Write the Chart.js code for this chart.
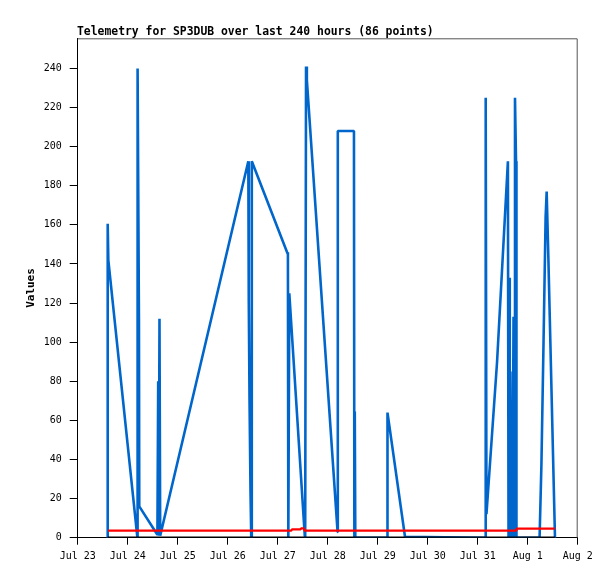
<!DOCTYPE html>
<html><head><meta charset="utf-8">
<script src="https://cdn.jsdelivr.net/npm/chart.js@4/dist/chart.umd.min.js"></script>
<style>html,body{margin:0;padding:0;background:#fff;}canvas{display:block;}</style>
</head><body>
<canvas id="c" width="615" height="579"></canvas>
<script>
// x axis: hours since Jul 23 00:00, 240 hours window
const xTickLabels = ['Jul 23','Jul 24','Jul 25','Jul 26','Jul 27','Jul 28','Jul 29','Jul 30','Jul 31','Aug 1','Aug 2'];
const yTickValues = [0,20,40,60,80,100,120,140,160,180,200,220,240];

const blueHours  = [14.4,14.4,14.7,28.6,28.75,29.4,29.55,38.26,38.64,38.88,39.26,39.6,81.9,82.03,82.2,82.46,82.94,83.3,83.57,100.5,100.9,101.1,101.57,109.0,109.2,109.6,110.0,124.75,124.85,132.6,132.8,133.0,133.25,148.6,148.7,157.1,195.6,195.84,196.2,201.3,206.5,206.8,207.2,207.4,207.7,208.0,208.5,208.7,209.2,209.4,209.8,209.9,210.4,210.6,221.7,222.0,222.6,223.6,224.6,225.1,225.9,229.1];
const blueValues = [0,160.5,142,0.5,240,112,16,1.5,80,1,112,1,192.5,168,121,72,24,0,192.5,146,145,0,125,1,0,241,234,3,208,208,0,64.5,0,0,64,0.5,0,225,12,90,192.5,0,133,0,85,0,27,0,113,0,0,225,192.5,0,0,12.6,38,100,164,177,144,0];

const redHours  = [14.55,102.5,102.9,107.0,107.2,108.6,108.8,210.4,210.6,229.1];
const redValues = [3.6,3.6,4.3,4.3,4.8,4.8,3.6,3.6,4.6,4.6];

const zeroHours  = [14.4,229.1];
const zeroValues = [0,0];

const toXY = (hs, vs) => hs.map((h, i) => ({x: h, y: vs[i]}));

const framePlugin = {
  id: 'frame',
  afterDraw(chart) {
    const {ctx, chartArea: a} = chart;
    ctx.save();
    ctx.strokeStyle = '#555';
    ctx.lineWidth = 1;
    ctx.beginPath();
    ctx.moveTo(a.left, a.top + 0.5);
    ctx.lineTo(a.right - 0.5, a.top + 0.5);
    ctx.lineTo(a.right - 0.5, a.bottom);
    ctx.stroke();
    ctx.fillStyle = '#000';
    ctx.font = 'bold 11.4px "DejaVu Sans Mono"';
    ctx.textAlign = 'left';
    ctx.textBaseline = 'alphabetic';
    ctx.fillText('Telemetry for SP3DUB over last 240 hours (86 points)', 77, 35);
    ctx.restore();
  }
};

new Chart(document.getElementById('c'), {
  type: 'line',
  data: {
    datasets: [
      {data: toXY(blueHours, blueValues), borderColor: '#0066CC', borderWidth: 2.6, pointRadius: 0, tension: 0, order: 2, borderJoinStyle: 'bevel'},
      {data: toXY(redHours, redValues), borderColor: '#FF0000', borderWidth: 2.2, pointRadius: 0, tension: 0, order: 1, borderJoinStyle: 'bevel'},
      {data: toXY(zeroHours, zeroValues), borderColor: '#000000', borderWidth: 2.6, pointRadius: 0, tension: 0, order: 0}
    ]
  },
  options: {
    responsive: false,
    animation: false,
    events: [],
    layout: {padding: {top: 38.3, right: 37.3, left: 0, bottom: 0}},
    plugins: {legend: {display: false}, tooltip: {enabled: false}, title: {display: false}},
    scales: {
      x: {
        type: 'linear', min: 0, max: 240,
        afterFit(s) { s.height = 41.3; },
        afterBuildTicks(s) { s.ticks = xTickLabels.map((_, i) => ({value: i * 24})); },
        ticks: {
          autoSkip: false, maxRotation: 0, padding: 6, color: '#000',
          font: {family: '"DejaVu Sans Mono"', size: 10},
          callback: (v) => xTickLabels[Math.round(v / 24)]
        },
        grid: {drawOnChartArea: false, drawTicks: true, tickLength: 7, tickColor: '#000'},
        border: {display: true, color: '#000', width: 1}
      },
      y: {
        type: 'linear', min: 0, max: 255.4,
        afterFit(s) { s.width = 77.7; },
        afterBuildTicks(s) { s.ticks = yTickValues.map(v => ({value: v})); },
        ticks: {
          color: '#000', padding: 8,
          font: {family: '"DejaVu Sans Mono"', size: 10}
        },
        grid: {drawOnChartArea: false, drawTicks: true, tickLength: 8, tickColor: '#000'},
        border: {display: true, color: '#000', width: 1},
        title: {display: true, text: 'Values', color: '#000', font: {family: '"DejaVu Sans Mono"', size: 11, weight: 'bold'}, padding: {top: 24.4, bottom: 0}}
      }
    }
  },
  plugins: [framePlugin]
});
</script>
</body></html>
